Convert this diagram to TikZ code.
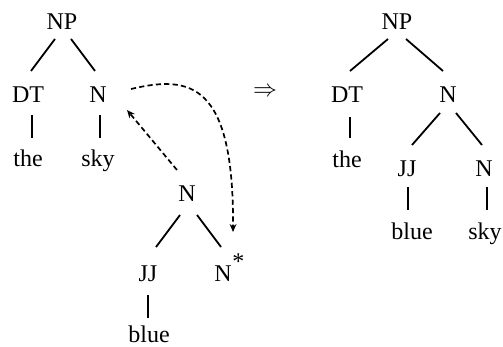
\documentclass[tikz,border=0pt]{standalone}
\usepackage{fontspec}
\setmainfont{Liberation Serif}
\usetikzlibrary{arrows.meta}

\begin{document}
\begin{tikzpicture}[
  x=0.5pt, y=-0.5pt,
  cat/.style={anchor=base, inner sep=0pt, font=\fontsize{12}{14}\selectfont},
  br/.style={line width=0.9pt},
  mv/.style={-{Stealth[length=4pt,width=3.4pt]}, line width=0.85pt, dash pattern=on 2.6pt off 1.6pt}
]
  \useasboundingbox (0,0) rectangle (503,347);

  %-- Left tree
  \node[cat] (np)  at (62,30)   {NP};
  \node[cat] (dt)  at (28,103)  {DT};
  \node[cat] (nl)  at (98,103)  {N};
  \node[cat] (the) at (28,167)  {the};
  \node[cat] (sky) at (98,167)  {sky};

  %-- Auxiliary tree
  \node[cat] (na)   at (187,202) {N};
  \node[cat] (jj)   at (148,282) {JJ};
  \node[cat] (nft)  at (223,282) {N\rlap{\kern0.3pt\raisebox{6pt}{*}}};
  \node[cat] (blue) at (149,343) {blue};

  %-- Result
  \node[cat] (imp) at (265,97) {$\Rightarrow$};

  \node[cat] (np2)   at (397,30)  {NP};
  \node[cat] (dt2)   at (347,103) {DT};
  \node[cat] (n2)    at (448,103) {N};
  \node[cat] (the2)  at (347,168) {the};
  \node[cat] (jj2)   at (407,177) {JJ};
  \node[cat] (n3)    at (484,177) {N};
  \node[cat] (blue2) at (412,240) {blue};
  \node[cat] (sky2)  at (485,240) {sky};

  %-- Branches
  \draw[br] ([shift={(-7,9)}]np.base)  -- ([shift={(3,-32)}]dt.base);
  \draw[br] ([shift={(9,9)}]np.base)   -- ([shift={(-3,-32)}]nl.base);
  \draw[br] ([shift={(4,12)}]dt.base)  -- ([shift={(4,-29)}]the.base);
  \draw[br] ([shift={(2,12)}]nl.base)  -- ([shift={(2,-29)}]sky.base);

  \draw[br] ([shift={(-7,13)}]na.base) -- ([shift={(8,-35)}]jj.base);
  \draw[br] ([shift={(10,13)}]na.base) -- ([shift={(-2,-35)}]nft.base);
  \draw[br] ([shift={(0,13)}]jj.base)  -- ([shift={(-1,-25)}]blue.base);

  \draw[br] ([shift={(-9,9)}]np2.base) -- ([shift={(3,-32)}]dt2.base);
  \draw[br] ([shift={(9,9)}]np2.base)  -- ([shift={(-5,-32)}]n2.base);
  \draw[br] ([shift={(3,14)}]dt2.base) -- ([shift={(3,-30)}]the2.base);
  \draw[br] ([shift={(-8,10)}]n2.base) -- ([shift={(5,-32)}]jj2.base);
  \draw[br] ([shift={(8,10)}]n2.base)  -- ([shift={(-2,-32)}]n3.base);
  \draw[br] ([shift={(1,10)}]jj2.base) -- ([shift={(-4,-30)}]blue2.base);
  \draw[br] ([shift={(3,10)}]n3.base)  -- ([shift={(2,-30)}]sky2.base);

  %-- Adjunction
  \draw[mv] ([shift={(-10,-32)}]na.base) -- ([shift={(29,7)}]nl.base);
  \draw[mv] ([shift={(33,-14)}]nl.base)
    .. controls (190,75) and (234,82) .. ([shift={(10,-50)}]nft.base);
\end{tikzpicture}
\end{document}
